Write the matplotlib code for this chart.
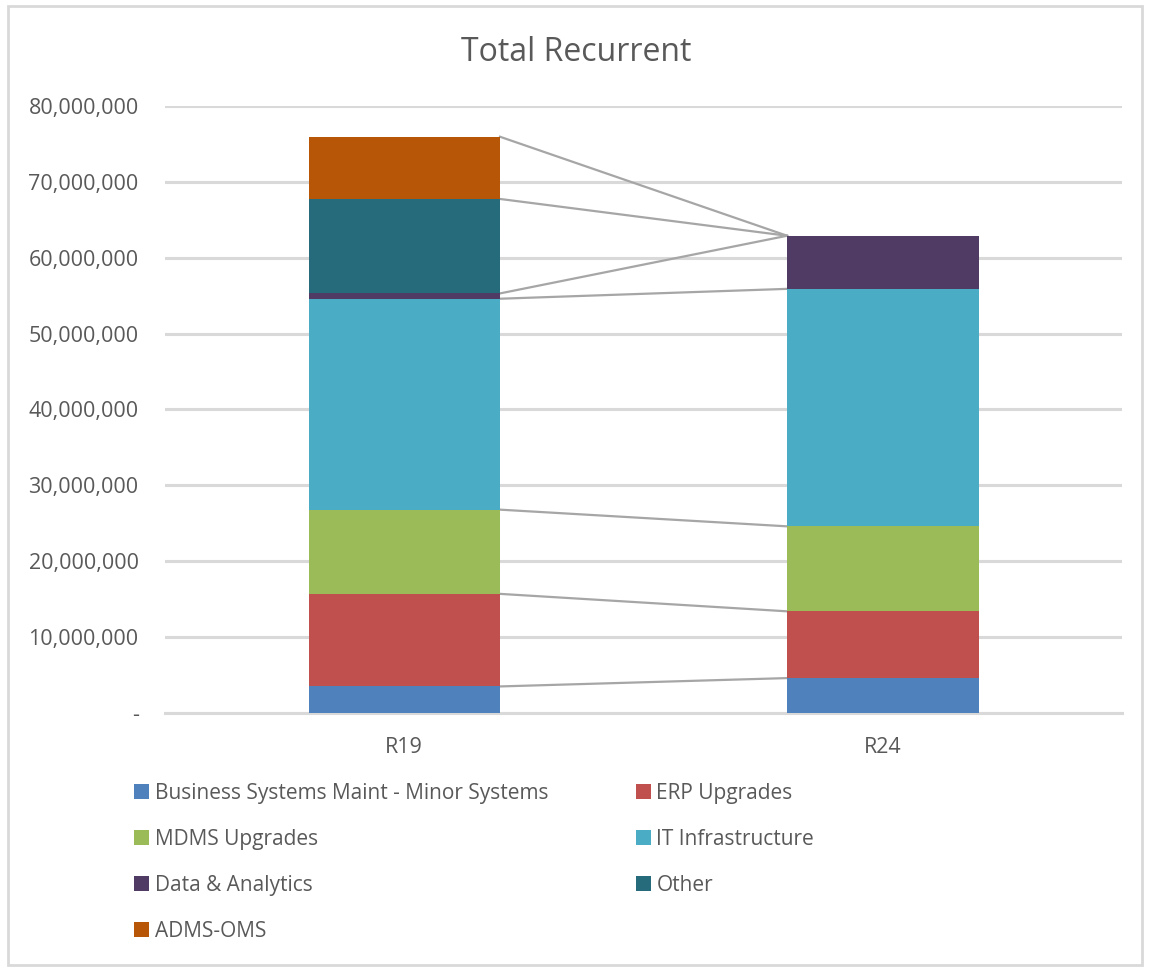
import numpy as np
import matplotlib
matplotlib.use("Agg")
import matplotlib.pyplot as plt
from matplotlib.patches import Rectangle, Patch
from matplotlib.ticker import FuncFormatter

plt.rcParams['font.family'] = ['Open Sans', 'DejaVu Sans']

categories = ['R19', 'R24']
series = ['Business Systems Maint - Minor Systems', 'ERP Upgrades', 'MDMS Upgrades',
          'IT Infrastructure', 'Data & Analytics', 'Other', 'ADMS-OMS']
values = {
    'Business Systems Maint - Minor Systems': [3.5e6, 4.6e6],
    'ERP Upgrades': [12.2e6, 8.8e6],
    'MDMS Upgrades': [11.1e6, 11.2e6],
    'IT Infrastructure': [27.8e6, 31.3e6],
    'Data & Analytics': [0.7e6, 7.0e6],
    'Other': [12.45e6, 0],
    'ADMS-OMS': [8.2e6, 0],
}
colors = ['#4f81bd', '#c0504d', '#9bbb59', '#4bacc6', '#4f3b63', '#256b7b', '#b85608']

text_col = '#595959'
grid_col = '#d9d9d9'

fig = plt.figure(figsize=(11.5, 9.69), dpi=100)
ax = fig.add_axes([0.1435, 0.2642, 0.8322, 0.6264])

x = np.arange(len(categories))
w = 0.4
bottom = np.zeros(len(categories))
tops = []
for name, c in zip(series, colors):
    v = np.array(values[name], dtype=float)
    ax.bar(x, v, w, bottom=bottom, color=c, zorder=3, linewidth=0)
    bottom = bottom + v
    tops.append(bottom.copy())

# series lines between the bars
for t in tops:
    ax.plot([x[0] + w / 2, x[1] - w / 2], [t[0], t[1]], color='#a6a6a6', lw=1.6, zorder=2)

ax.set_xlim(-0.5, 1.5)
ax.set_ylim(0, 80e6)
ax.set_yticks(np.arange(0, 80e6 + 1, 10e6))
ax.yaxis.set_major_formatter(FuncFormatter(lambda v, p: '-' if v == 0 else f'{v:,.0f}'))
ax.set_xticks(x)
ax.set_xticklabels(categories)
ax.grid(axis='y', color=grid_col, lw=2.2, zorder=0)
ax.tick_params(length=0, labelsize=15.5, colors=text_col)
ax.tick_params(axis='y', pad=19)
ax.tick_params(axis='x', pad=17)
for s in ['left', 'right', 'top']:
    ax.spines[s].set_visible(False)
ax.spines['bottom'].set_color(grid_col)
ax.spines['bottom'].set_linewidth(2.2)
ax.spines['bottom'].set_zorder(1)

fig.text(0.501, 0.946, 'Total Recurrent', ha='center', va='center', fontsize=23, color=text_col)

handles = [Patch(facecolor=c, label=n) for n, c in zip(series, colors)]
order = [0, 2, 4, 6, 1, 3, 5]
leg = fig.legend([handles[i] for i in order], [series[i] for i in order],
                 loc='upper left', bbox_to_anchor=(0.109, 0.2005), ncol=2,
                 frameon=False, fontsize=15, handlelength=0.75, handleheight=0.75,
                 handletextpad=0.25, labelspacing=1.2, columnspacing=4.2,
                 borderaxespad=0)
for t in leg.get_texts():
    t.set_color(text_col)

fig.patches.append(Rectangle((0.007, 0.004), 0.986, 0.99, transform=fig.transFigure,
                             fill=False, edgecolor='#d9d9d9', lw=2))

fig.savefig('out.png', dpi=100)
